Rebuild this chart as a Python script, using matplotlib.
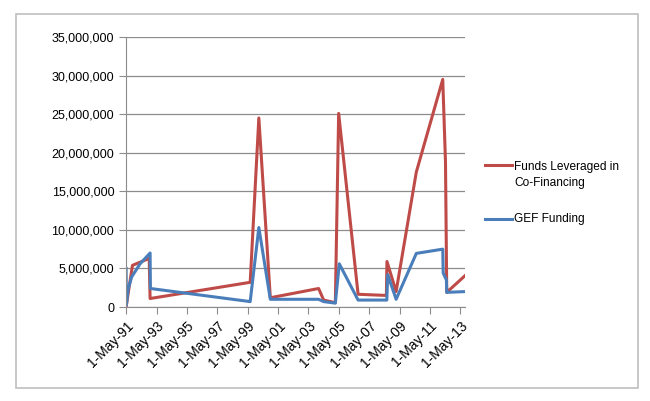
import numpy as np
import matplotlib
matplotlib.use('Agg')
import matplotlib.pyplot as plt
import matplotlib.dates as mdates
from matplotlib.lines import Line2D
from matplotlib.patches import Rectangle
from matplotlib.ticker import FuncFormatter, MultipleLocator

# data (dates, USD)
cofin_dates = ['1991-05-01', '1991-10-01', '1992-11-06', '1992-11-28', '1999-07-01',
               '2000-01-25', '2000-10-27', '2004-01-01', '2004-05-01', '2005-02-06',
               '2005-04-27', '2006-08-07', '2008-06-17', '2008-07-01', '2009-02-06',
               '2010-06-07', '2012-03-03', '2012-05-08', '2012-06-07', '2013-08-28']
cofin_vals = [0, 5400000, 6300000, 1100000, 3200000,
              24500000, 1200000, 2400000, 900000, 560000,
              25100000, 1650000, 1500000, 5900000, 2000000,
              17500000, 29500000, 18800000, 1900000, 4100000]

gef_dates = ['1991-05-01', '1991-05-08', '1991-06-18', '1991-09-12', '1992-04-01',
             '1992-11-28', '1992-12-05', '1999-07-01', '2000-01-25', '2000-10-27',
             '2004-01-01', '2004-05-01', '2005-02-06', '2005-05-12', '2006-08-07',
             '2008-06-28', '2008-07-19', '2009-02-06', '2010-06-07', '2012-03-03',
             '2012-03-14', '2012-05-30', '2012-06-07', '2013-08-28']
gef_vals = [5000000, 250000, 2300000, 3900000, 5600000,
            7000000, 2400000, 700000, 10300000, 1000000,
            1000000, 700000, 500000, 5600000, 900000,
            900000, 4200000, 1000000, 6950000, 7500000,
            4400000, 3500000, 1900000, 2000000]

labels = ['Funds Leveraged in\nCo-Financing', 'GEF Funding']
colors = ['#BE4B48', '#4A7EBB']

plt.rcParams['font.family'] = ['Liberation Sans', 'DejaVu Sans']

fig = plt.figure(figsize=(6.5, 4.01), dpi=100)
ax = fig.add_axes([0.194, 0.2344, 0.521, 0.6733])

ax.plot(np.array(cofin_dates, dtype='datetime64[D]'), cofin_vals, color=colors[0], lw=2.2)
ax.plot(np.array(gef_dates, dtype='datetime64[D]'), gef_vals, color=colors[1], lw=2.2)

ax.set_xlim(np.datetime64('1991-05-01'), np.datetime64('2013-08-14'))
ax.set_ylim(0, 35000000)
ax.yaxis.set_major_locator(MultipleLocator(5000000))
ax.yaxis.set_major_formatter(FuncFormatter(lambda v, p: '{:,.0f}'.format(v)))

ticks = [np.datetime64('%d-05-01' % y) for y in range(1991, 2014, 2)]
ax.set_xticks(ticks)
ax.xaxis.set_major_formatter(mdates.DateFormatter('1-May-%y'))
plt.setp(ax.get_xticklabels(), rotation=45, ha='right', rotation_mode='anchor', fontsize=10)

ax.grid(axis='y', color='#8c8c8c', lw=0.9)
ax.set_axisbelow(True)
for s in ['top', 'right']:
    ax.spines[s].set_visible(False)
for s in ['left', 'bottom']:
    ax.spines[s].set_color('#8c8c8c')
ax.tick_params(axis='y', labelsize=9)
ax.tick_params(axis='both', colors='#8c8c8c', labelcolor='black', length=5, direction='out')

# legend drawn by hand to the right of the plot
fig.add_artist(Line2D([485 / 650, 512 / 650], [1 - 165 / 401] * 2, color=colors[0], lw=2.2))
fig.text(514 / 650, 1 - 175 / 401, labels[0], fontsize=8.6, va='center', linespacing=1.45)
fig.add_artist(Line2D([485 / 650, 512 / 650], [1 - 219 / 401] * 2, color=colors[1], lw=2.2))
fig.text(514 / 650, 1 - 219 / 401, labels[1], fontsize=8.6, va='center')

# outer chart border
fig.add_artist(Rectangle((16 / 650, 1 - 388 / 401), 622 / 650, 374 / 401,
                         transform=fig.transFigure, fill=False, ec='#bfbfbf', lw=1.2))

plt.savefig('out.png', dpi=100)
